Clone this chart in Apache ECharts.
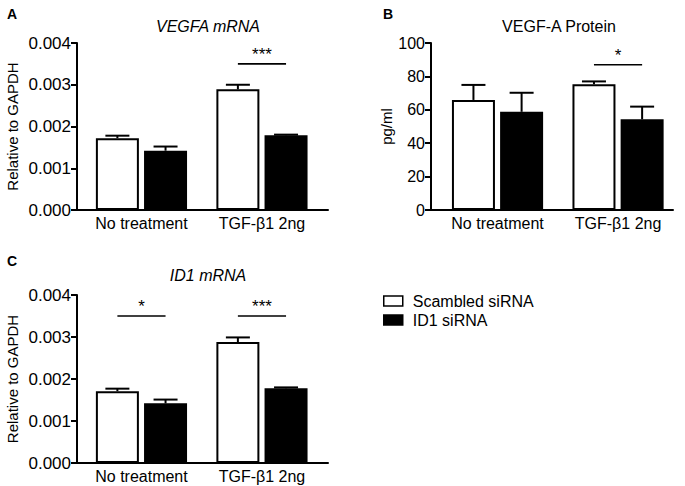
<!DOCTYPE html>
<html>
<head>
<meta charset="utf-8">
<script src="https://cdn.jsdelivr.net/npm/echarts@6/dist/echarts.min.js"></script>
<style>
html,body{margin:0;padding:0;background:#fff;}
#chart{width:685px;height:486px;}
</style>
</head>
<body>
<div id="chart"></div>
<script>
// ---------- data ----------
const categories = ['No treatment', 'TGF-β1 2ng'];
const seriesNames = ['Scambled siRNA', 'ID1 siRNA'];

// Panel A: VEGFA mRNA (relative to GAPDH)
const vegfaScrambled = [0.00172, 0.00289];
const vegfaScrambledErr = [0.00006, 0.00011];
const vegfaId1 = [0.00142, 0.00179];
const vegfaId1Err = [0.00010, 0.000015];
const vegfaSigGroups = [1];
const vegfaSigLevel = [0.0035];
const vegfaSigText = ['***'];

// Panel B: VEGF-A protein (pg/ml)
const proteinScrambled = [65.9, 75.3];
const proteinScrambledErr = [9.0, 1.7];
const proteinId1 = [58.8, 54.3];
const proteinId1Err = [11.4, 7.6];
const proteinSigGroups = [1];
const proteinSigLevel = [87];
const proteinSigText = ['*'];

// Panel C: ID1 mRNA (relative to GAPDH)
const id1Scrambled = [0.00171, 0.00288];
const id1ScrambledErr = [0.00006, 0.00011];
const id1Id1 = [0.00142, 0.00178];
const id1Id1Err = [0.00009, 0.00002];
const id1SigGroups = [0, 1];
const id1SigLevel = [0.0035, 0.0035];
const id1SigText = ['*', '***'];

// tick labels
const mrnaTicks = [0, 0.001, 0.002, 0.003, 0.004];
const proteinTicks = [0, 20, 40, 60, 80, 100];

// ---------- styling ----------
const FONT = 'Liberation Sans';
const BAR_W = 43;
const BAR_GAP = 0.12;
const OFFSET = (BAR_W + BAR_W * BAR_GAP) / 2;
const CAP = 12;

const panels = [
  { grid: {left: 77, top: 43, width: 251, height: 167}, xMin: -0.535, xMax: 1.548,
    ticks: mrnaTicks, digits: 3, tickFont: 17, yName: 'Relative to GAPDH', nameGap: 57,
    s: vegfaScrambled, sE: vegfaScrambledErr, k: vegfaId1, kE: vegfaId1Err,
    sigG: vegfaSigGroups, sigY: vegfaSigLevel, sigT: vegfaSigText },
  { grid: {left: 431, top: 43, width: 242, height: 167}, xMin: -0.552, xMax: 1.456,
    ticks: proteinTicks, digits: 0, tickFont: 16, yName: 'pg/ml', nameGap: 36,
    s: proteinScrambled, sE: proteinScrambledErr, k: proteinId1, kE: proteinId1Err,
    sigG: proteinSigGroups, sigY: proteinSigLevel, sigT: proteinSigText },
  { grid: {left: 77, top: 295, width: 251, height: 168}, xMin: -0.535, xMax: 1.548,
    ticks: mrnaTicks, digits: 3, tickFont: 17, yName: 'Relative to GAPDH', nameGap: 57,
    s: id1Scrambled, sE: id1ScrambledErr, k: id1Id1, kE: id1Id1Err,
    sigG: id1SigGroups, sigY: id1SigLevel, sigT: id1SigText }
];

function errRender(side) {
  return function (params, api) {
    const x = api.value(0), m = api.value(1), t = api.value(2);
    const p0 = api.coord([x, m]);
    const p1 = api.coord([x, t]);
    const cx = p0[0] + side * OFFSET;
    return { type: 'group', children: [
      { type: 'line', shape: {x1: cx, y1: p0[1], x2: cx, y2: p1[1]}, style: {stroke: '#000', lineWidth: 2} },
      { type: 'line', shape: {x1: cx - CAP, y1: p1[1], x2: cx + CAP, y2: p1[1]}, style: {stroke: '#000', lineWidth: 2} }
    ]};
  };
}

function sigRender(texts) {
  return function (params, api) {
    const c = api.coord([api.value(0), api.value(1)]);
    return { type: 'group', children: [
      { type: 'line', shape: {x1: c[0] - OFFSET, y1: c[1], x2: c[0] + OFFSET, y2: c[1]}, style: {stroke: '#000', lineWidth: 1.6} },
      { type: 'text', x: c[0], y: c[1] - 1, style: {text: texts[params.dataIndex], fill: '#000', font: '17px "' + FONT + '"', align: 'center', verticalAlign: 'bottom'} }
    ]};
  };
}

const grids = [], xAxes = [], yAxes = [], series = [];
panels.forEach((p, i) => {
  grids.push(p.grid);
  xAxes.push({
    type: 'value', gridIndex: i, min: p.xMin, max: p.xMax,
    axisLine: {show: true, onZero: false, lineStyle: {color: '#000', width: 2}},
    axisTick: {show: false}, splitLine: {show: false},
    axisLabel: {customValues: categories.map((c, j) => j), formatter: v => categories[Math.round(v)],
      color: '#000', fontSize: 16, fontFamily: FONT, margin: 5}
  });
  const step = p.ticks[1] - p.ticks[0];
  yAxes.push({
    type: 'value', gridIndex: i, min: p.ticks[0], max: p.ticks[p.ticks.length - 1], interval: step,
    name: p.yName, nameLocation: 'middle', nameGap: p.nameGap,
    nameTextStyle: {color: '#000', fontSize: 15, fontFamily: FONT},
    axisLine: {show: true, onZero: false, lineStyle: {color: '#000', width: 2}},
    axisTick: {show: true, length: 6, lineStyle: {color: '#000', width: 2}},
    splitLine: {show: false},
    axisLabel: {color: '#000', fontSize: p.tickFont, fontFamily: FONT, margin: 6, formatter: v => v.toFixed(p.digits)}
  });
  series.push({
    type: 'bar', name: seriesNames[0], xAxisIndex: i, yAxisIndex: i,
    barWidth: BAR_W, barGap: (BAR_GAP * 100) + '%',
    data: p.s.map((v, j) => [j, v]),
    itemStyle: {color: '#fff', borderColor: '#000', borderWidth: 2}
  });
  series.push({
    type: 'bar', name: seriesNames[1], xAxisIndex: i, yAxisIndex: i,
    barWidth: BAR_W, barGap: (BAR_GAP * 100) + '%',
    data: p.k.map((v, j) => [j, v]),
    itemStyle: {color: '#000', borderColor: '#000', borderWidth: 2}
  });
  series.push({
    type: 'custom', xAxisIndex: i, yAxisIndex: i, z: 5, clip: false,
    renderItem: errRender(-1),
    data: p.s.map((v, j) => [j, v, v + p.sE[j]])
  });
  series.push({
    type: 'custom', xAxisIndex: i, yAxisIndex: i, z: 5, clip: false,
    renderItem: errRender(1),
    data: p.k.map((v, j) => [j, v, v + p.kE[j]])
  });
  series.push({
    type: 'custom', xAxisIndex: i, yAxisIndex: i, z: 5, clip: false,
    renderItem: sigRender(p.sigT),
    data: p.sigG.map((g, j) => [g, p.sigY[j]])
  });
});

const chart = echarts.init(document.getElementById('chart'), null, {renderer: 'svg'});
chart.setOption({
  animation: false,
  backgroundColor: '#fff',
  textStyle: {fontFamily: FONT},
  title: [
    {text: 'VEGFA mRNA', left: 203, top: 13, textAlign: 'center', textStyle: {fontSize: 16, fontStyle: 'italic', fontWeight: 'normal', color: '#000', fontFamily: FONT}},
    {text: 'VEGF-A Protein', left: 554, top: 13, textAlign: 'center', textStyle: {fontSize: 16, fontWeight: 'normal', color: '#000', fontFamily: FONT}},
    {text: 'ID1 mRNA', left: 203, top: 262, textAlign: 'center', textStyle: {fontSize: 16, fontStyle: 'italic', fontWeight: 'normal', color: '#000', fontFamily: FONT}},
    {text: 'A', left: 2, top: 2, textStyle: {fontSize: 14, fontWeight: 'bold', color: '#000', fontFamily: FONT}},
    {text: 'B', left: 378, top: 2, textStyle: {fontSize: 14, fontWeight: 'bold', color: '#000', fontFamily: FONT}},
    {text: 'C', left: 2, top: 249, textStyle: {fontSize: 14, fontWeight: 'bold', color: '#000', fontFamily: FONT}}
  ],
  legend: {
    orient: 'vertical', left: 378, top: 288, itemWidth: 19, itemHeight: 10, itemGap: 3,
    icon: 'rect', selectedMode: false,
    textStyle: {fontSize: 16, color: '#000', fontFamily: FONT, padding: [0, 0, 0, 5]},
    data: [
      {name: seriesNames[0], itemStyle: {color: '#fff', borderColor: '#000', borderWidth: 1.5}},
      {name: seriesNames[1], itemStyle: {color: '#000', borderColor: '#000', borderWidth: 1.5}}
    ]
  },
  grid: grids,
  xAxis: xAxes,
  yAxis: yAxes,
  series: series
});
</script>
</body>
</html>
